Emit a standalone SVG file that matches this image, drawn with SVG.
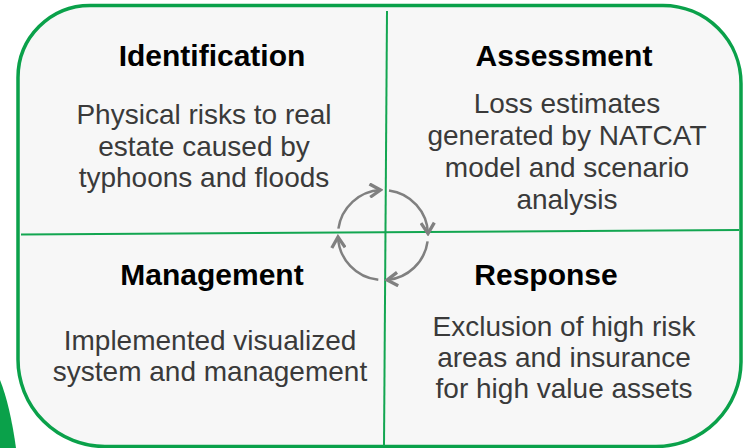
<svg xmlns="http://www.w3.org/2000/svg" width="749" height="448" viewBox="0 0 749 448">
  <style>
    .title { font-family: "Liberation Sans", Arial, sans-serif; font-weight: bold; font-size: 30px; fill: #000; text-anchor: middle; }
    .body { font-family: "Liberation Sans", Arial, sans-serif; font-size: 28px; fill: #3a3a3a; text-anchor: middle; }
    .divider { stroke: #13a651; stroke-width: 2; fill: none; }
    .cycle { stroke: #808080; stroke-width: 2.5; fill: none; marker-end: url(#chev); }
  </style>
  <defs>
    <marker id="chev" markerUnits="userSpaceOnUse" markerWidth="16" markerHeight="16" viewBox="0 0 12 12" refX="10" refY="6" orient="auto">
      <path d="M2,1 L10,6 L2,11" fill="none" stroke="#808080" stroke-width="2.5"/>
    </marker>
  </defs>
  <rect width="749" height="448" fill="#ffffff"/>
  <path d="M0,380 Q10,405 16,448 L0,448 Z" fill="#0aa14a"/>
  <g id="frame">
    <path d="M95,5.5 L663,5.5 A78,78 0 0 1 741,83.5 L741,362 A85,85 0 0 1 656,446.5 L105,446.5 A87,87 0 0 1 18,359.5 L18,77.5 A72,72 0 0 1 90,5.5 Z" fill="#f7f7f7" stroke="#0aa14a" stroke-width="3.5"/>
    <line class="divider" x1="387" y1="11" x2="384" y2="446"/>
    <line class="divider" x1="21" y1="234.5" x2="739" y2="230"/>
  </g>
  <g id="identification">
    <text class="title" x="212" y="66">Identification</text>
    <text class="body" x="204" y="124">Physical risks to real</text>
    <text class="body" x="204" y="156">estate caused by</text>
    <text class="body" x="204" y="187">typhoons and floods</text>
  </g>
  <g id="assessment">
    <text class="title" x="564" y="66">Assessment</text>
    <text class="body" x="567" y="113">Loss estimates</text>
    <text class="body" x="567" y="145">generated by NATCAT</text>
    <text class="body" x="567" y="177">model and scenario</text>
    <text class="body" x="567" y="209">analysis</text>
  </g>
  <g id="management">
    <text class="title" x="212" y="285">Management</text>
    <text class="body" x="210" y="350">Implemented visualized</text>
    <text class="body" x="210" y="381">system and management</text>
  </g>
  <g id="response">
    <text class="title" x="546" y="285">Response</text>
    <text class="body" x="564" y="336">Exclusion of high risk</text>
    <text class="body" x="564" y="367">areas and insurance</text>
    <text class="body" x="564" y="398">for high value assets</text>
  </g>
  <g id="connectors">
    <path class="cycle" d="M338.4,228.7 A45,45 0 0 1 380.5,190"/>
    <path class="cycle" d="M389,190.4 A45,45 0 0 1 428,233.5"/>
    <path class="cycle" d="M427.6,241.3 A45,45 0 0 1 387,280"/>
    <path class="cycle" d="M378.3,279.8 A45,45 0 0 1 338,237"/>
  </g>
</svg>
